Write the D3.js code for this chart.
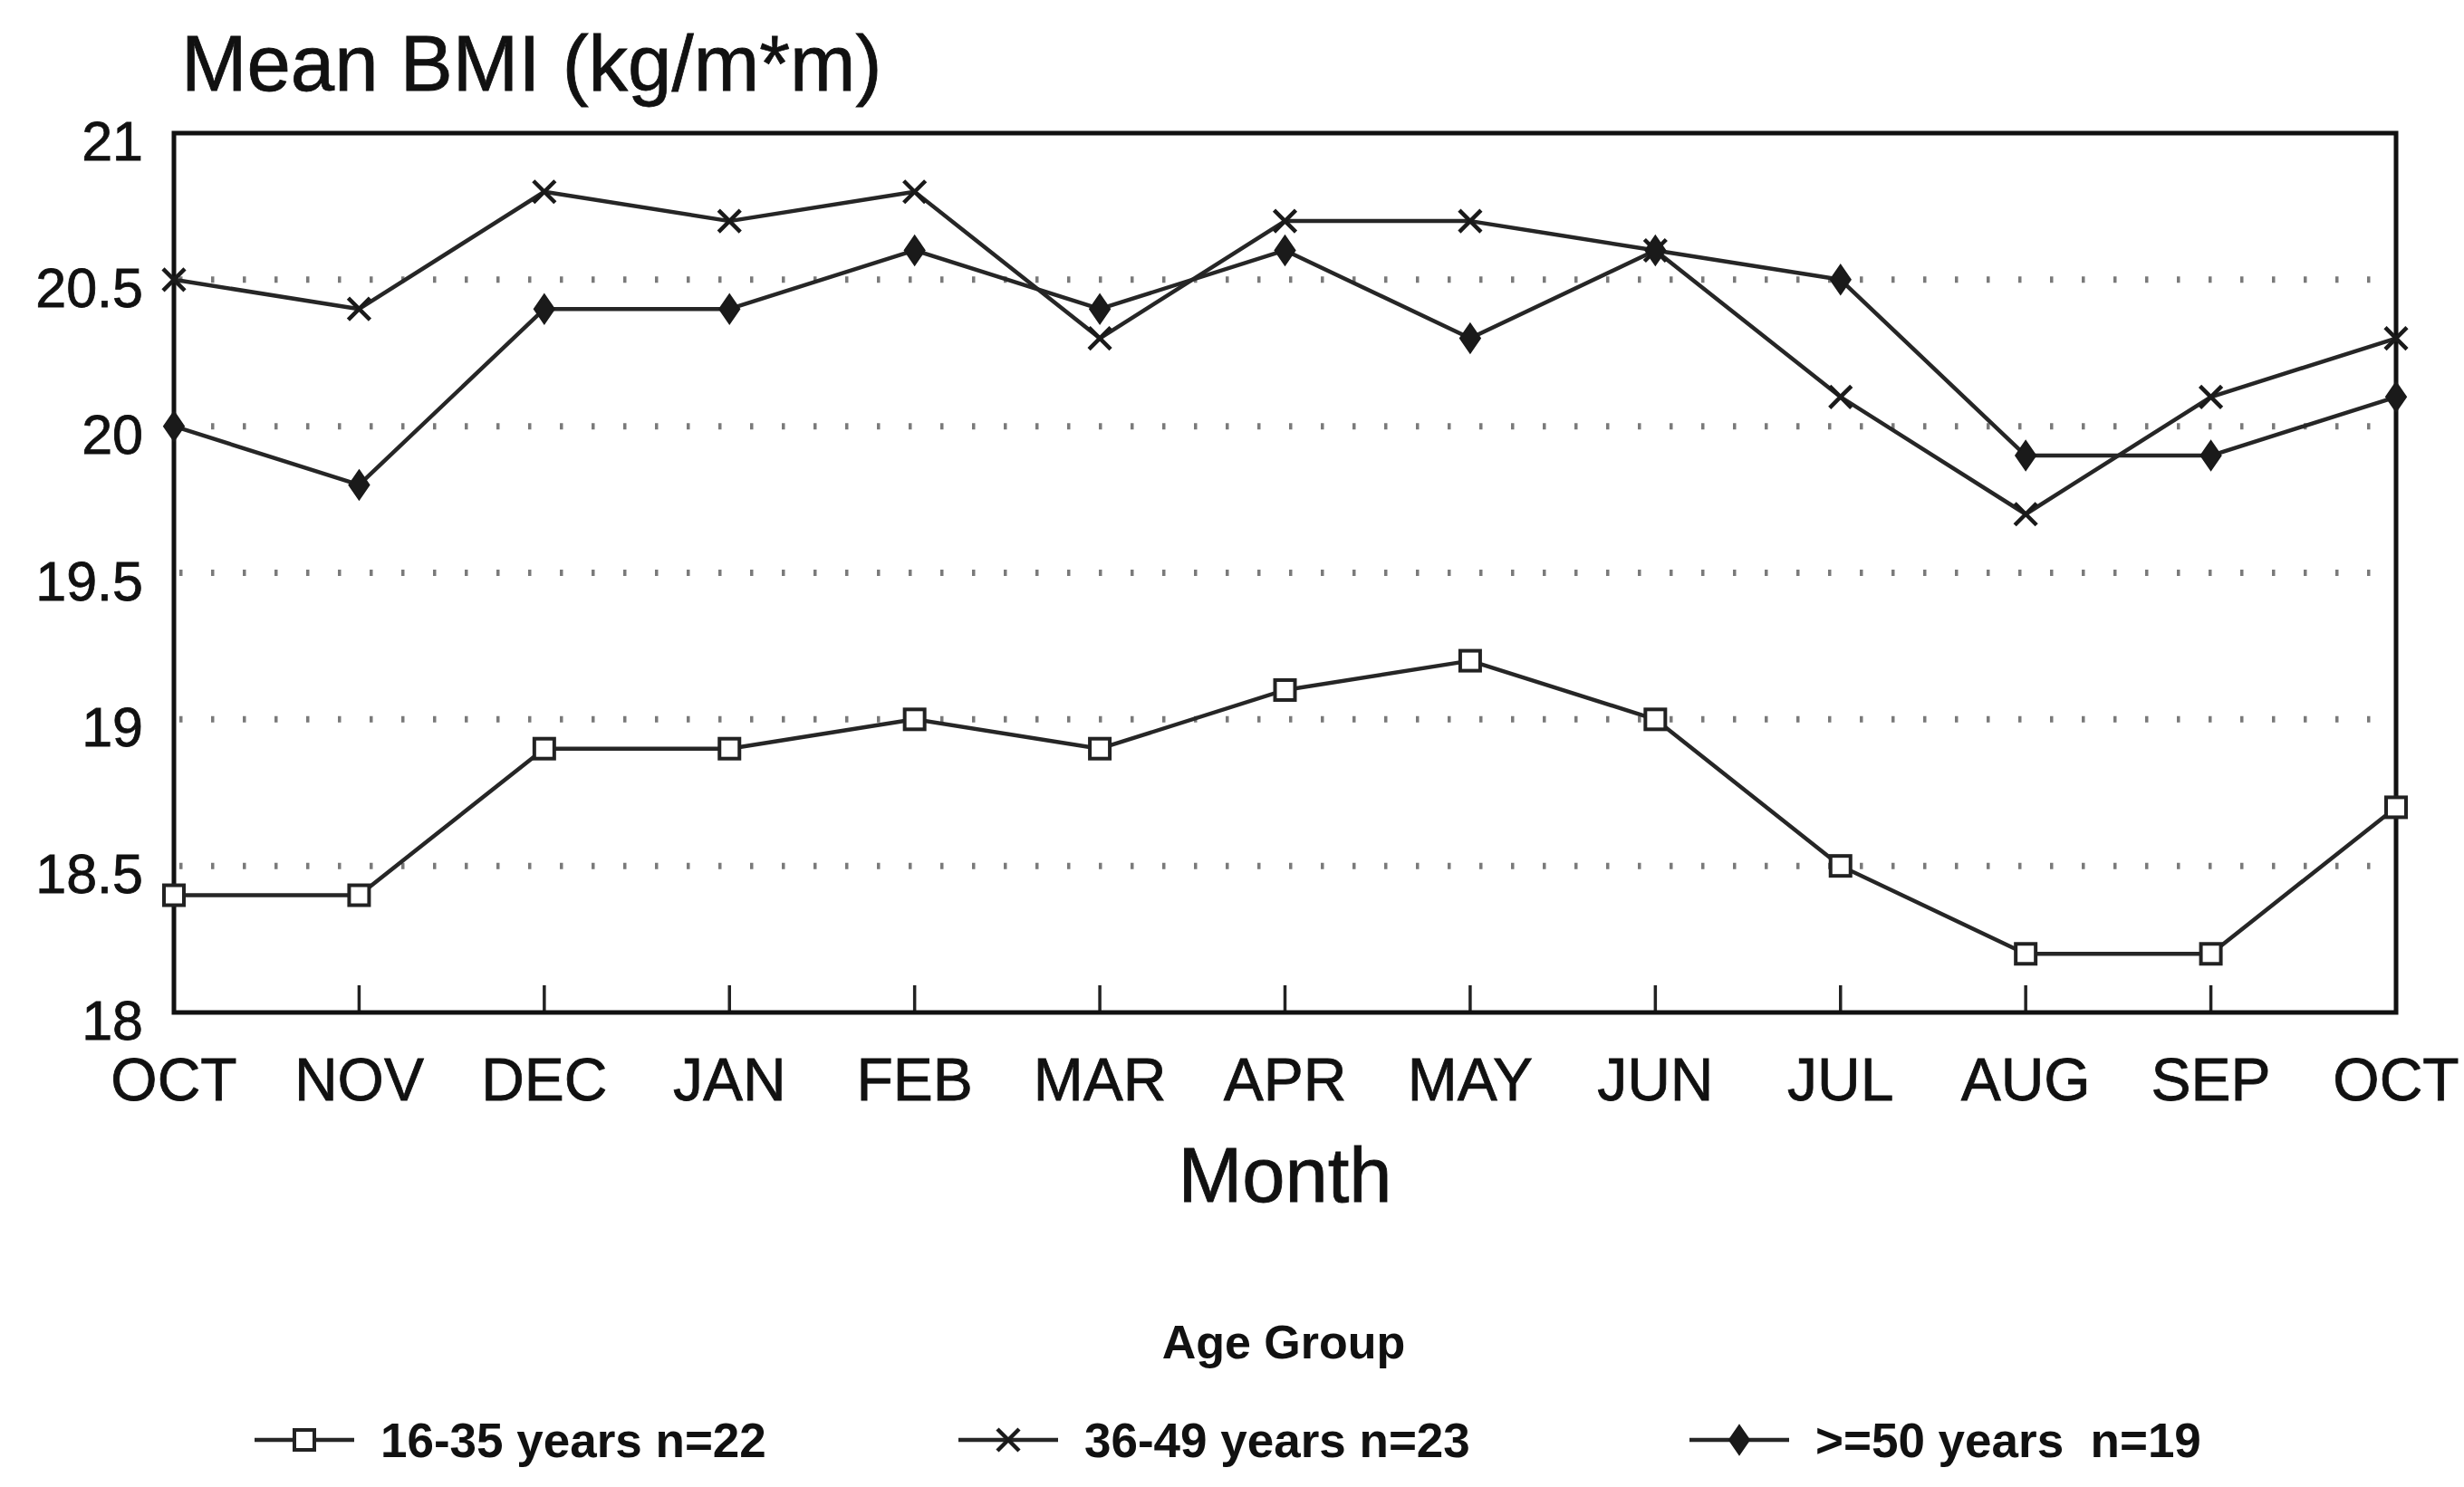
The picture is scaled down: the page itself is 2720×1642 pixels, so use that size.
<!DOCTYPE html>
<html>
<head>
<meta charset="utf-8">
<script src="https://cdn.jsdelivr.net/npm/d3@7"></script>
<style>
  html, body { margin: 0; padding: 0; background: #fff; }
  svg { display: block; }
  text { font-family: "Liberation Sans", Arial, sans-serif; fill: #111; }
</style>
</head>
<body>
<script>
// Month sequence (October through the following October)
const months = ["OCT", "NOV", "DEC", "JAN", "FEB", "MAR", "APR", "MAY", "JUN", "JUL", "AUG", "SEP", "OCT"];

// Mean BMI per age group
const bmi16to35 = [18.4, 18.4, 18.9, 18.9, 19.0, 18.9, 19.1, 19.2, 19.0, 18.5, 18.2, 18.2, 18.7];
const bmi36to49 = [20.5, 20.4, 20.8, 20.7, 20.8, 20.3, 20.7, 20.7, 20.6, 20.1, 19.7, 20.1, 20.3];
const bmi50plus = [20.0, 19.8, 20.4, 20.4, 20.6, 20.4, 20.6, 20.3, 20.6, 20.5, 19.9, 19.9, 20.1];

const seriesLabels = ["16-35 years n=22", "36-49 years n=23", ">=50 years  n=19"];
const yTicks = [18, 18.5, 19, 19.5, 20, 20.5, 21];
const yTickLabels = ["18", "18.5", "19", "19.5", "20", "20.5", "21"];
const gridValues = [18.5, 19, 19.5, 20, 20.5];

const W = 2720, H = 1642;
const plot = { left: 192, right: 2645, top: 147, bottom: 1118 };

const svg = d3.select("body").append("svg").attr("width", W).attr("height", H);

const x = d3.scalePoint().domain(d3.range(months.length)).range([plot.left, plot.right]);
const y = d3.scaleLinear().domain([18, 21]).range([plot.bottom, plot.top]);

// Dotted horizontal gridlines
svg.append("g").selectAll("line").data(gridValues).join("line")
  .attr("x1", plot.left + 6).attr("x2", plot.right - 6)
  .attr("y1", d => y(d)).attr("y2", d => y(d))
  .attr("stroke", "#7a7a7a").attr("stroke-width", 7)
  .attr("stroke-dasharray", "3.5 31.5");

// Month tick marks pointing up from the bottom axis
svg.append("g").selectAll("line").data(d3.range(1, months.length - 1)).join("line")
  .attr("x1", d => x(d)).attr("x2", d => x(d))
  .attr("y1", plot.bottom).attr("y2", plot.bottom - 30)
  .attr("stroke", "#222").attr("stroke-width", 3.5);

// Plot frame
svg.append("rect")
  .attr("x", plot.left).attr("y", plot.top)
  .attr("width", plot.right - plot.left).attr("height", plot.bottom - plot.top)
  .attr("fill", "none").attr("stroke", "#111").attr("stroke-width", 5);

// Y tick labels
svg.append("g").selectAll("text").data(yTicks).join("text")
  .attr("x", 158).attr("y", d => y(d) + 30)
  .attr("text-anchor", "end").attr("font-size", 61)
  .attr("stroke", "#111").attr("stroke-width", 0.8)
  .text((d, i) => yTickLabels[i]);

// X tick labels
svg.append("g").selectAll("text").data(months).join("text")
  .attr("x", (d, i) => x(i)).attr("y", 1215)
  .attr("text-anchor", "middle").attr("font-size", 66)
  .attr("stroke", "#111").attr("stroke-width", 0.8)
  .text(d => d);

// Axis titles
svg.append("text").attr("x", 200).attr("y", 100)
  .attr("font-size", 87).attr("stroke", "#111").attr("stroke-width", 0.8)
  .text("Mean BMI (kg/m*m)");
svg.append("text").attr("x", (plot.left + plot.right) / 2).attr("y", 1327)
  .attr("text-anchor", "middle").attr("font-size", 85)
  .attr("stroke", "#111").attr("stroke-width", 0.8).text("Month");

// Marker symbols
function drawMarker(g, type, cx, cy) {
  if (type === 0) {
    g.append("rect").attr("x", cx - 11).attr("y", cy - 11).attr("width", 22).attr("height", 22)
      .attr("fill", "#fff").attr("stroke", "#222").attr("stroke-width", 4);
  } else if (type === 1) {
    g.append("path").attr("d", `M${cx - 12},${cy - 12}L${cx + 12},${cy + 12}M${cx - 12},${cy + 12}L${cx + 12},${cy - 12}`)
      .attr("stroke", "#1a1a1a").attr("stroke-width", 4.5).attr("fill", "none");
  } else {
    g.append("path").attr("d", `M${cx},${cy - 16}L${cx + 11},${cy}L${cx},${cy + 16}L${cx - 11},${cy}Z`)
      .attr("fill", "#1a1a1a").attr("stroke", "#1a1a1a").attr("stroke-width", 2);
  }
}

const allSeries = [bmi16to35, bmi36to49, bmi50plus];
const line = d3.line().x((d, i) => x(i)).y(d => y(d));

allSeries.forEach((vals, s) => {
  const g = svg.append("g");
  g.append("path").attr("d", line(vals))
    .attr("fill", "none").attr("stroke", "#262626").attr("stroke-width", 4.5)
    .attr("stroke-linejoin", "round");
  vals.forEach((v, i) => drawMarker(g, s, x(i), y(v)));
});

// Legend
svg.append("text").attr("x", 1417).attr("y", 1500)
  .attr("text-anchor", "middle").attr("font-size", 52).attr("font-weight", "bold")
  .text("Age Group");

const legendX = [281, 1058, 1865];
seriesLabels.forEach((lab, s) => {
  const g = svg.append("g");
  const lx = legendX[s], ly = 1590;
  g.append("line").attr("x1", lx).attr("x2", lx + 110).attr("y1", ly).attr("y2", ly)
    .attr("stroke", "#262626").attr("stroke-width", 4.5);
  drawMarker(g, s, lx + 55, ly);
  g.append("text").attr("x", lx + 139).attr("y", ly + 19)
    .attr("font-size", 53).attr("font-weight", "bold")
    .style("white-space", "pre")
    .text(lab);
});
</script>
</body>
</html>
